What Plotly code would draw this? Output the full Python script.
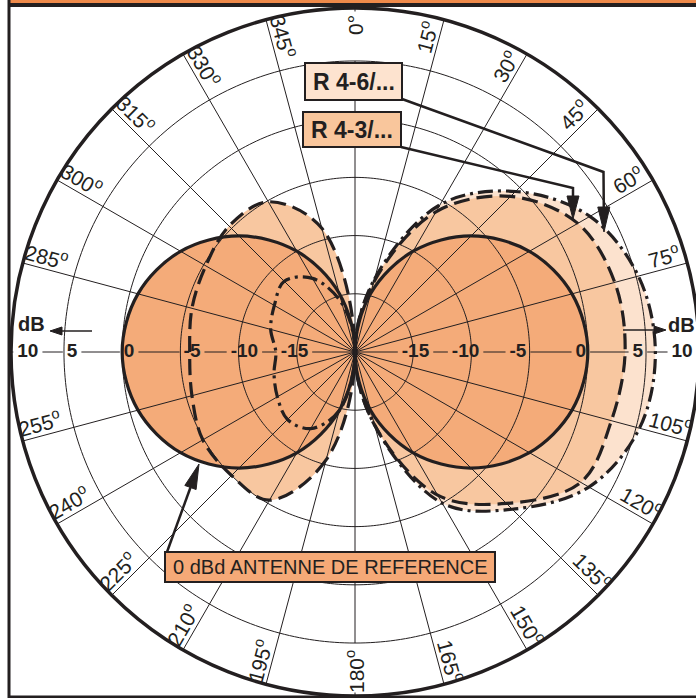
import math
import plotly.graph_objects as go

# ---------------- data ----------------
angles = list(range(0, 360, 15))  # degrees, 0 = top, clockwise

# 0 dBd reference antenna (solid)
ref_db = [-20, -14.8, -10.0, -5.9, -2.7, -0.7, 0.0, -0.7, -2.7, -5.9, -10.0, -14.8,
          -20, -14.8, -10.0, -5.9, -2.7, -0.7, 0.0, -0.7, -2.7, -5.9, -10.0, -14.8]
# R 4-3/... (dashed)
r43_db = [-20, -13.8, -6.1, -1.1, 2.1, 3.1, 3.2, 2.8, 2.4, -1.6, -5.8, -13.5,
          -20, -10.4, -5.3, -5.0, -4.9, -5.5, -5.8, -5.5, -5.2, -4.7, -5.1, -9.0]
# R 4-6/... (dash-dot)
r46_db = [-20, -13.5, -5.4, -0.5, 3.3, 5.2, 5.8, 5.3, 3.2, -0.9, -5.0, -13.5,
          -20, -14.8, -12.4, -11.8, -12.3, -12.8, -13.2, -12.5, -12.0, -11.4, -12.7, -15.7]

ring_values = [-15, -10, -5, 0, 5]
db_label_text = ["10", "5", "0", "-5", "-10", "-15"]
db_label_r = [8.1, 4.3, -0.6, -6.0, -10.5, -14.8]
angle_label_values = [a for a in angles if a not in (90, 270)]

# ---------------- styling ----------------
W, H = 700, 698          # page is 696 wide; the last 4 px fall outside the window
CX, CY, R_PX = 355.0, 352.0, 344.0
R_MIN, R_MAX = -20.0, 9.55
PX_PER_DB = R_PX / (R_MAX - R_MIN)
INK = "#231F20"
C_REF = "#F4AB79"
C_43 = "#F8C7A0"
C_46 = "#FCE2CE"
C_TOP = "#EF8A4A"
FONT = "Liberation Sans, Arial, Helvetica, sans-serif"


def lobes(vals):
    th = angles + [360]
    v = vals + [vals[0]]
    return th[0:13] + [None] + th[12:25], v[0:13] + [None] + v[12:25]


def px(x, y):
    return x / W, 1 - y / H


fig = go.Figure()

# fills (lightest first)
for vals, col in ((r46_db, C_46), (r43_db, C_43), (ref_db, C_REF)):
    t, r = lobes(vals)
    fig.add_trace(go.Scatterpolar(r=r, theta=t, mode="lines", fill="toself",
                                  fillcolor=col, line=dict(width=0, shape="spline", color=col),
                                  hoverinfo="skip", showlegend=False))

# grid rings
rt, rr = [], []
for rv in ring_values:
    rt += list(range(0, 361)) + [None]
    rr += [rv] * 361 + [None]
fig.add_trace(go.Scatterpolar(r=rr, theta=rt, mode="lines",
                              line=dict(color=INK, width=1), hoverinfo="skip", showlegend=False))

# spokes (0 and 180 stop at the +5 ring, with a short tick at the rim)
st, sr = [], []
for a in angles:
    if a in (90, 270):
        continue
    if a in (0, 180):
        st += [a, a, None, a, a, None]
        sr += [R_MIN, 5, None, R_MAX - 0.3, R_MAX, None]
    else:
        st += [a, a, None]
        sr += [R_MIN, R_MAX, None]
fig.add_trace(go.Scatterpolar(r=sr, theta=st, mode="lines",
                              line=dict(color=INK, width=1), hoverinfo="skip", showlegend=False))

# horizontal axis segments broken around the dB labels
LFS = 19
def half_width_db(t):
    w = sum(0.333 if ch == "-" else 0.556 for ch in t) * LFS
    return (w / 2 + 4) / PX_PER_DB

ht, hr = [], []
for side in (90, 270):
    bounds = [R_MAX]
    for t, r in zip(db_label_text, db_label_r):
        hw = half_width_db(t)
        bounds += [r + hw, r - hw]
    bounds.append(R_MIN)
    for i in range(0, len(bounds), 2):
        ht += [side, side, None]
        hr += [bounds[i], bounds[i + 1], None]
fig.add_trace(go.Scatterpolar(r=hr, theta=ht, mode="lines",
                              line=dict(color=INK, width=1), hoverinfo="skip", showlegend=False))

# outlines
for vals, dash in ((r46_db, "15px,5px,3px,5px"), (r43_db, "16px,7px"), (ref_db, "solid")):
    t, r = lobes(vals)
    fig.add_trace(go.Scatterpolar(r=r, theta=t, mode="lines",
                                  line=dict(color=INK, width=3.2, dash=dash, shape="spline"),
                                  hoverinfo="skip", showlegend=False))

# dB value labels on the horizontal axis
fig.add_trace(go.Scatterpolar(
    r=db_label_r + db_label_r,
    theta=[270] * len(db_label_r) + [90] * len(db_label_r),
    text=db_label_text + db_label_text, mode="text",
    textfont=dict(family=FONT, size=LFS, color=INK, weight="bold"),
    hoverinfo="skip", showlegend=False))

annotations = []
# angular labels
for a in angle_label_values:
    rad = math.radians(a)
    if a == 0:
        off, rho = 0, 327
    elif a == 180:
        off, rho = 0, 320
    elif a < 180:
        off, rho = -13, 323
    else:
        off, rho = 13, 323
    x = CX + rho * math.sin(rad) + off * math.cos(rad)
    y = CY - rho * math.cos(rad) + off * math.sin(rad)
    ang = a - 90 if 0 <= a < 180 else a - 270
    xp, yp = px(x, y)
    label = "0\u00b0" if a == 0 else str(a) + "<sup>o</sup>"
    annotations.append(dict(x=xp, y=yp, xref="paper", yref="paper", text=label,
                            showarrow=False, textangle=ang, xanchor="center", yanchor="middle",
                            font=dict(family=FONT, size=21, color=INK)))

# "dB" labels
for (x, y) in ((31.7, 323.5), (681, 325)):
    xp, yp = px(x, y)
    annotations.append(dict(x=xp, y=yp, xref="paper", yref="paper", text="<b>dB</b>",
                            showarrow=False, xanchor="center", yanchor="middle",
                            font=dict(family=FONT, size=20, color=INK)))

shapes = []

def box(x0, y0, x1, y1, fill, text, size, bold):
    a0, b0 = px(x0, y0)
    a1, b1 = px(x1, y1)
    shapes.append(dict(type="rect", xref="paper", yref="paper", x0=a0, x1=a1, y0=b1, y1=b0,
                       fillcolor=fill, line=dict(color=INK, width=2)))
    cx, cy = px((x0 + x1) / 2, (y0 + y1) / 2)
    annotations.append(dict(x=cx, y=cy, xref="paper", yref="paper",
                            text=f"<b>{text}</b>" if bold else text, showarrow=False,
                            xanchor="center", yanchor="middle",
                            font=dict(family=FONT, size=size, color=INK)))

def arrow(points, head_len, head_w, lw):
    (tx, ty), (qx, qy) = points[-1], points[-2]
    d = math.hypot(tx - qx, ty - qy)
    ux, uy = (tx - qx) / d, (ty - qy) / d
    bx, by = tx - ux * head_len, ty - uy * head_len
    pts = points[:-1] + [(bx, by)]
    path = "M " + " L ".join("%.5f,%.5f" % px(x, y) for x, y in pts)
    shapes.append(dict(type="path", xref="paper", yref="paper", path=path,
                       line=dict(color=INK, width=lw)))
    nx, ny = -uy, ux
    tri = [(tx, ty), (bx + nx * head_w / 2, by + ny * head_w / 2), (bx - nx * head_w / 2, by - ny * head_w / 2)]
    path = "M " + " L ".join("%.5f,%.5f" % px(x, y) for x, y in tri) + " Z"
    shapes.append(dict(type="path", xref="paper", yref="paper", path=path,
                       fillcolor=INK, line=dict(color=INK, width=1)))

# leader arrows
arrow([(402, 99), (603.5, 172), (604, 232)], 25, 12, 2.5)
arrow([(401, 147), (573, 188), (573, 219)], 23, 12, 2.5)
arrow([(167, 552), (199, 464)], 25, 12, 2.5)
# dB arrows
arrow([(92, 331), (50, 331)], 12, 8, 1.5)
arrow([(623, 330), (666, 330)], 12, 8, 1.5)

# boxes
box(305, 63, 402, 100, "#FDE3CF", "R 4-6/...", 23, True)
box(303, 112, 401, 147, "#F9C69C", "R 4-3/...", 23, True)
box(165, 552, 495, 582, "#F5A977", "0 dBd ANTENNE DE REFERENCE", 20, False)

# frame decorations
def band(x0, y0, x1, y1, col):
    a0, b0 = px(x0, y0)
    a1, b1 = px(x1, y1)
    shapes.append(dict(type="rect", xref="paper", yref="paper", x0=a0, x1=a1, y0=b1, y1=b0,
                       fillcolor=col, line=dict(width=0)))

band(8, 0, W, 3, C_TOP)
band(8, 3, W, 7, INK)
band(7.5, 0, 10.5, H, INK)
band(8, 695.5, W, H, INK)

fig.update_layout(
    width=W, height=H, margin=dict(l=0, r=0, t=0, b=0),
    paper_bgcolor="white", plot_bgcolor="white", showlegend=False,
    polar=dict(
        domain=dict(x=[(CX - R_PX) / W, (CX + R_PX) / W], y=[1 - (CY + R_PX) / H, 1 - (CY - R_PX) / H]),
        bgcolor="white",
        radialaxis=dict(range=[R_MIN, R_MAX], showgrid=False, showticklabels=False, ticks="",
                        showline=False),
        angularaxis=dict(direction="clockwise", rotation=90, showgrid=False, showticklabels=False,
                         ticks="", showline=True, linecolor=INK, linewidth=3.5),
    ),
    annotations=annotations, shapes=shapes,
)

fig.write_html("out.html", config={"displayModeBar": False},
               post_script="document.body.style.margin='0px';document.body.style.overflow='hidden';")
